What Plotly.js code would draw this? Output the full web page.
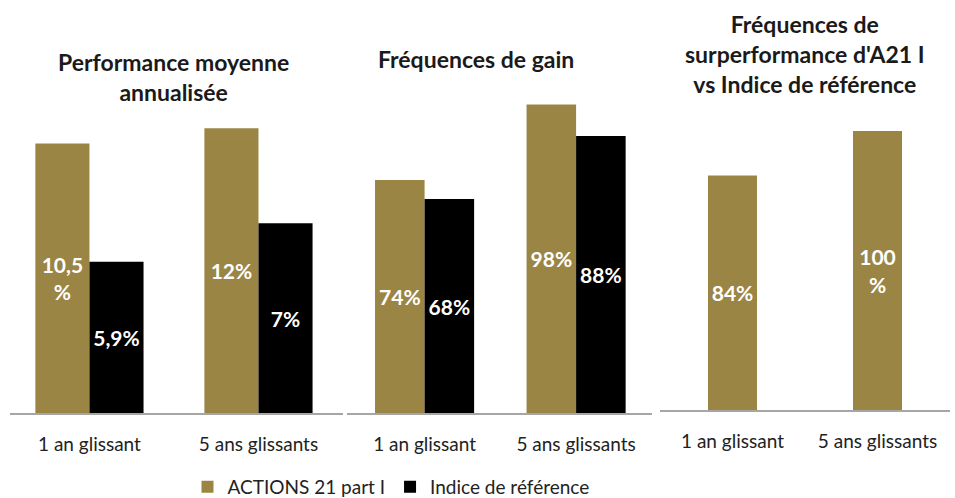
<!DOCTYPE html>
<html>
<head>
<meta charset="utf-8">
<script src="https://cdn.plot.ly/plotly-3.0.1.min.js"></script>
<style>html,body{margin:0;padding:0;background:#fff;}#chart{width:955px;height:498px;}</style>
</head>
<body>
<div id="chart"></div>
<script>
// ---- data ----
const periods = ["1 an glissant", "5 ans glissants"];
const seriesNames = ["ACTIONS 21 part I", "Indice de référence"];
const panelTitles = [
  "Performance moyenne<br>annualisée",
  "Fréquences de gain",
  "Fréquences de<br>surperformance d'A21 I<br>vs Indice de référence"
];
// Performance moyenne annualisée (%)
const perfFund = [10.5, 11.1];
const perfIndex = [5.9, 7.4];
const perfFundLabels = ["10,5<br>%", "12%"];
const perfIndexLabels = ["5,9%", "7%"];
// Fréquences de gain (%)
const gainFund = [74, 98];
const gainIndex = [68, 88];
const gainFundLabels = ["74%", "98%"];
const gainIndexLabels = ["68%", "88%"];
// Fréquences de surperformance (%)
const outperf = [84, 100];
const outperfLabels = ["84%", "100<br>%"];

// ---- styles ----
const GOLD = "#9b8545";
const BLACK = "#000000";
const FONT = "Lato, 'Open Sans', sans-serif";
const W = 955, H = 498;
const px = v => v / W;
const py = v => (H - v) / H;
const labelFont = {family: FONT, size: 21, color: "#ffffff", weight: "bold"};
const titleFont = {family: FONT, size: 23, color: "#1a1a1a", weight: "bold"};

function bar(x, y, text, color, xa, ya, name, showlegend, width, offset) {
  return {
    type: "bar", x: x, y: y, text: text, name: name,
    legendgroup: name, showlegend: showlegend,
    xaxis: xa, yaxis: ya,
    marker: {color: color, line: {width: 0}},
    width: width, offset: offset,
    textposition: "inside", insidetextanchor: "middle",
    textangle: 0,
    textfont: labelFont, constraintext: "none",
    hoverinfo: "skip", cliponaxis: false
  };
}

const data = [
  bar(periods, perfFund, perfFundLabels, GOLD, "x", "y", seriesNames[0], true, 0.32, -0.32),
  bar(periods, perfIndex, perfIndexLabels, BLACK, "x", "y", seriesNames[1], true, 0.32, 0),
  bar(periods, gainFund, gainFundLabels, GOLD, "x2", "y2", seriesNames[0], false, 0.327, -0.327),
  bar(periods, gainIndex, gainIndexLabels, BLACK, "x2", "y2", seriesNames[1], false, 0.327, 0),
  bar(periods, outperf, outperfLabels, GOLD, "x3", "y3", seriesNames[0], false, 0.338, -0.169)
];

function xax(d0, d1, range, anchor) {
  return {
    domain: [px(d0), px(d1)], range: range, type: "category", anchor: anchor,
    showline: true, linecolor: "#a6a6a6", linewidth: 2,
    showgrid: false, zeroline: false,
    ticks: "outside", ticklen: 13, tickcolor: "rgba(0,0,0,0)",
    tickfont: {family: FONT, size: 19, color: "#222"},
    fixedrange: true
  };
}
function yax(b, t, range, anchor) {
  return {
    domain: [py(b), py(t)], range: range, anchor: anchor,
    visible: false, showgrid: false, zeroline: false, fixedrange: true
  };
}

const layout = {
  width: W, height: H,
  margin: {l: 0, r: 0, t: 0, b: 0, pad: 0, autoexpand: false},
  paper_bgcolor: "#ffffff", plot_bgcolor: "rgba(0,0,0,0)",
  barmode: "overlay",
  showlegend: true,
  font: {family: FONT, color: "#222"},
  xaxis: xax(10, 343, [-0.47, 1.5], "y"),
  yaxis: yax(413, 100, [0, 12.2], "x"),
  xaxis2: xax(347, 652, [-0.512, 1.501], "y2"),
  yaxis2: yax(413, 100, [0, 99.46], "x2"),
  xaxis3: xax(660, 950, [-0.5, 1.5], "y3"),
  yaxis3: yax(410, 100, [0, 111.1], "x3"),
  legend: {
    orientation: "h", x: px(391), xanchor: "center", y: py(487), yanchor: "middle",
    font: {family: FONT, size: 19, color: "#222"},
    itemwidth: 30, tracegroupgap: 0, traceorder: "normal"
  },
  annotations: [
    {text: panelTitles[0], x: px(173), y: py(77), xref: "paper", yref: "paper",
     xanchor: "center", yanchor: "middle", showarrow: false, align: "center",
     font: titleFont},
    {text: panelTitles[1], x: px(476), y: py(59), xref: "paper", yref: "paper",
     xanchor: "center", yanchor: "middle", showarrow: false, align: "center",
     font: titleFont},
    {text: panelTitles[2], x: px(805), y: py(54), xref: "paper", yref: "paper",
     xanchor: "center", yanchor: "middle", showarrow: false, align: "center",
     font: titleFont}
  ]
};

Plotly.newPlot("chart", data, layout, {displayModeBar: false, staticPlot: true});
</script>
</body>
</html>
